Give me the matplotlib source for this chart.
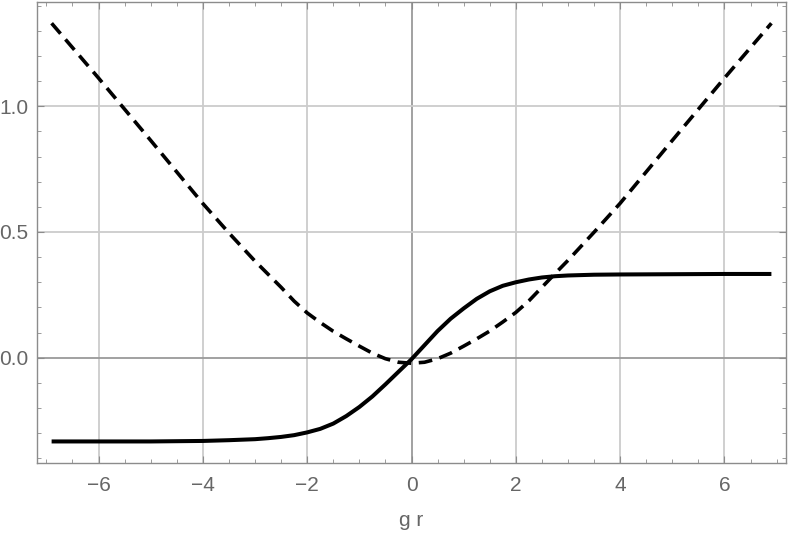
import matplotlib
matplotlib.use("Agg")
import matplotlib.pyplot as plt
from matplotlib.ticker import MultipleLocator

# values
gr_solid = [-6.9, -6, -5, -4, -3.5, -3, -2.75, -2.5, -2.25, -2, -1.75, -1.5, -1.25, -1,
            -0.75, -0.5, -0.25, 0, 0.25, 0.5, 0.75, 1, 1.25, 1.5, 1.75, 2, 2.25, 2.5,
            2.75, 3, 3.5, 4, 5, 6, 6.9]
y_solid = [-0.333, -0.333, -0.333, -0.331, -0.328, -0.324, -0.320, -0.315, -0.308, -0.297,
           -0.283, -0.262, -0.232, -0.196, -0.154, -0.106, -0.056, -0.006, 0.050, 0.106,
           0.155, 0.196, 0.234, 0.264, 0.286, 0.300, 0.311, 0.319, 0.324, 0.327, 0.330,
           0.331, 0.332, 0.333, 0.333]

gr_dashed = [-6.9, -6, -5, -4, -3.5, -3, -2.75, -2.5, -2.25, -2, -1.75, -1.5, -1.25, -1,
             -0.75, -0.5, -0.25, 0, 0.25, 0.5, 0.75, 1, 1.25, 1.5, 1.75, 2, 2.25, 2.5,
             2.75, 3, 3.5, 4, 5, 6, 6.9]
y_dashed = [1.330, 1.112, 0.864, 0.613, 0.496, 0.384, 0.332, 0.280, 0.225, 0.178, 0.140,
            0.105, 0.075, 0.046, 0.018, -0.004, -0.018, -0.022, -0.018, -0.004, 0.018,
            0.046, 0.075, 0.106, 0.142, 0.180, 0.226, 0.280, 0.334, 0.387, 0.499, 0.614,
            0.864, 1.112, 1.330]

x_label = "g r"
x_ticks = [-6, -4, -2, 0, 2, 4, 6]
y_ticks = [0.0, 0.5, 1.0]

plt.rcParams["font.family"] = ["Liberation Sans", "DejaVu Sans"]

fig = plt.figure(figsize=(7.89, 5.39), dpi=100)
ax = fig.add_axes([0.0469, 0.1404, 0.9493, 0.8566])

grid_col = "#cccccc"
for xt in x_ticks:
    ax.axvline(xt, color="#9a9a9a" if xt == 0 else grid_col, lw=1.3, zorder=0)
for yt in y_ticks:
    ax.axhline(yt, color="#9a9a9a" if yt == 0 else grid_col, lw=1.3, zorder=0)

ax.plot(gr_solid, y_solid, color="black", lw=2.9, solid_capstyle="butt",
        solid_joinstyle="round", zorder=3)
ax.plot(gr_dashed, y_dashed, color="black", lw=2.6, dashes=(3.8, 2.1), zorder=3)

ax.set_xlim(-7.18, 7.18)
ax.set_ylim(-0.42, 1.416)
ax.set_xticks(x_ticks)
ax.set_yticks(y_ticks)
ax.set_yticklabels([f"{v:.1f}" for v in y_ticks])
ax.xaxis.set_minor_locator(MultipleLocator(0.5))
ax.yaxis.set_minor_locator(MultipleLocator(0.1))

for sp in ax.spines.values():
    sp.set_color("#8c8c8c")
    sp.set_linewidth(1.0)

ax.tick_params(which="both", direction="in", top=True, right=True, color="#8c8c8c",
               labelcolor="#666666", labelsize=15)
ax.tick_params(which="major", length=5, width=0.8)
ax.tick_params(which="minor", length=3, width=0.6)
ax.tick_params(axis="x", which="major", pad=9)
ax.tick_params(axis="y", which="major", pad=6)

ax.set_xlabel(x_label, color="#666666", fontsize=15, labelpad=12)

fig.savefig("out.png", dpi=100)
